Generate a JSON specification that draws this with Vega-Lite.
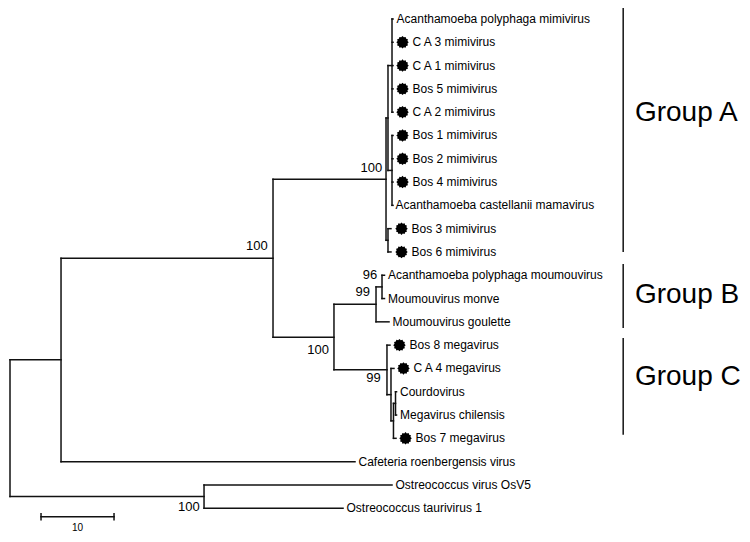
{
  "$schema": "https://vega.github.io/schema/vega-lite/v6.json",
  "width": 750,
  "height": 542,
  "padding": 0,
  "autosize": {"type": "none"},
  "background": "white",
  "config": {"view": {"stroke": null}, "text": {"font": "Liberation Sans"}},
  "datasets": {
    "segments": [
      {"x": 0, "x2": 6.99, "y": 14.63, "y2": 14.63},
      {"x": 0, "x2": 26.58, "y": 20.5, "y2": 20.5},
      {"x": 6.99, "x2": 36.03, "y": 10.27, "y2": 10.27},
      {"x": 6.99, "x2": 47.26, "y": 19, "y2": 19},
      {"x": 36.03, "x2": 51.51, "y": 6.875, "y2": 6.875},
      {"x": 36.03, "x2": 44.38, "y": 13.66, "y2": 13.66},
      {"x": 51.51, "x2": 51.78, "y": 4.25, "y2": 4.25},
      {"x": 51.51, "x2": 51.78, "y": 9.5, "y2": 9.5},
      {"x": 51.78, "x2": 52.33, "y": 2, "y2": 2},
      {"x": 51.78, "x2": 52.33, "y": 6.5, "y2": 6.5},
      {"x": 52.33, "x2": 52.47, "y": 0, "y2": 0},
      {"x": 52.33, "x2": 52.47, "y": 1, "y2": 1},
      {"x": 52.33, "x2": 52.47, "y": 2, "y2": 2},
      {"x": 52.33, "x2": 52.47, "y": 3, "y2": 3},
      {"x": 52.33, "x2": 52.47, "y": 4, "y2": 4},
      {"x": 52.33, "x2": 52.47, "y": 5, "y2": 5},
      {"x": 52.33, "x2": 52.47, "y": 6, "y2": 6},
      {"x": 52.33, "x2": 52.47, "y": 7, "y2": 7},
      {"x": 52.33, "x2": 52.47, "y": 8, "y2": 8},
      {"x": 51.78, "x2": 52.19, "y": 9, "y2": 9},
      {"x": 51.78, "x2": 52.19, "y": 10, "y2": 10},
      {"x": 44.38, "x2": 50.14, "y": 12.25, "y2": 12.25},
      {"x": 44.38, "x2": 51.64, "y": 15.06, "y2": 15.06},
      {"x": 50.14, "x2": 50.96, "y": 11.5, "y2": 11.5},
      {"x": 50.14, "x2": 51.92, "y": 13, "y2": 13},
      {"x": 50.96, "x2": 51.3, "y": 11, "y2": 11},
      {"x": 50.96, "x2": 51.3, "y": 12, "y2": 12},
      {"x": 51.64, "x2": 52.05, "y": 14, "y2": 14},
      {"x": 51.64, "x2": 52.19, "y": 16.125, "y2": 16.125},
      {"x": 52.19, "x2": 52.6, "y": 15, "y2": 15},
      {"x": 52.19, "x2": 52.53, "y": 17.25, "y2": 17.25},
      {"x": 52.53, "x2": 52.81, "y": 16.5, "y2": 16.5},
      {"x": 52.53, "x2": 52.88, "y": 18, "y2": 18},
      {"x": 52.81, "x2": 52.95, "y": 16, "y2": 16},
      {"x": 52.81, "x2": 52.95, "y": 17, "y2": 17},
      {"x": 26.58, "x2": 52.33, "y": 20, "y2": 20},
      {"x": 26.58, "x2": 45.62, "y": 21, "y2": 21},
      {"x": 0, "x2": 0, "y": 14.63, "y2": 20.5},
      {"x": 6.99, "x2": 6.99, "y": 10.27, "y2": 19},
      {"x": 36.03, "x2": 36.03, "y": 6.875, "y2": 13.66},
      {"x": 51.51, "x2": 51.51, "y": 4.25, "y2": 9.5},
      {"x": 51.78, "x2": 51.78, "y": 2, "y2": 6.5},
      {"x": 52.33, "x2": 52.33, "y": 0, "y2": 4},
      {"x": 52.33, "x2": 52.33, "y": 5, "y2": 8},
      {"x": 51.78, "x2": 51.78, "y": 9, "y2": 10},
      {"x": 44.38, "x2": 44.38, "y": 12.25, "y2": 15.06},
      {"x": 50.14, "x2": 50.14, "y": 11.5, "y2": 13},
      {"x": 50.96, "x2": 50.96, "y": 11, "y2": 12},
      {"x": 51.64, "x2": 51.64, "y": 14, "y2": 16.125},
      {"x": 52.19, "x2": 52.19, "y": 15, "y2": 17.25},
      {"x": 52.53, "x2": 52.53, "y": 16.5, "y2": 18},
      {"x": 52.81, "x2": 52.81, "y": 16, "y2": 17},
      {"x": 26.58, "x2": 26.58, "y": 20, "y2": 21},
      {"x": 4.25, "x2": 14.25, "y": 21.37, "y2": 21.37},
      {"x": 4.25, "x2": 4.25, "y": 21.24, "y2": 21.5},
      {"x": 14.25, "x2": 14.25, "y": 21.24, "y2": 21.5}
    ],
    "leaves": [
      {"name": "Acanthamoeba polyphaga mimivirus", "x": 52.47, "y": 0, "dot": false},
      {"name": "C A 3 mimivirus", "x": 52.47, "y": 1, "dot": true},
      {"name": "C A 1 mimivirus", "x": 52.47, "y": 2, "dot": true},
      {"name": "Bos 5 mimivirus", "x": 52.47, "y": 3, "dot": true},
      {"name": "C A 2 mimivirus", "x": 52.47, "y": 4, "dot": true},
      {"name": "Bos 1 mimivirus", "x": 52.47, "y": 5, "dot": true},
      {"name": "Bos 2 mimivirus", "x": 52.47, "y": 6, "dot": true},
      {"name": "Bos 4 mimivirus", "x": 52.47, "y": 7, "dot": true},
      {"name": "Acanthamoeba castellanii mamavirus", "x": 52.33, "y": 8, "dot": false},
      {"name": "Bos 3 mimivirus", "x": 52.33, "y": 9, "dot": true},
      {"name": "Bos 6 mimivirus", "x": 52.33, "y": 10, "dot": true},
      {"name": "Acanthamoeba polyphaga moumouvirus", "x": 51.3, "y": 11, "dot": false},
      {"name": "Moumouvirus monve", "x": 51.3, "y": 12, "dot": false},
      {"name": "Moumouvirus goulette", "x": 51.92, "y": 13, "dot": false},
      {"name": "Bos 8 megavirus", "x": 52.05, "y": 14, "dot": true},
      {"name": "C A 4 megavirus", "x": 52.6, "y": 15, "dot": true},
      {"name": "Courdovirus", "x": 52.95, "y": 16, "dot": false},
      {"name": "Megavirus chilensis", "x": 52.95, "y": 17, "dot": false},
      {"name": "Bos 7 megavirus", "x": 52.88, "y": 18, "dot": true},
      {"name": "Cafeteria roenbergensis virus", "x": 47.26, "y": 19, "dot": false},
      {"name": "Ostreococcus virus OsV5", "x": 52.33, "y": 20, "dot": false},
      {"name": "Ostreococcus taurivirus 1", "x": 45.62, "y": 21, "dot": false}
    ],
    "boot": [
      {"label": "100", "x": 35.3, "y": 9.74},
      {"label": "100", "x": 51.0, "y": 6.39},
      {"label": "96", "x": 50.3, "y": 10.99},
      {"label": "99", "x": 49.3, "y": 11.72},
      {"label": "100", "x": 43.7, "y": 14.2},
      {"label": "99", "x": 50.8, "y": 15.4},
      {"label": "100", "x": 26.0, "y": 20.94}
    ],
    "groups": [
      {"name": "Group A", "x": 84.0, "tx": 85.6, "y": -0.47, "y2": 10.0, "ty": 4.03},
      {"name": "Group B", "x": 84.0, "tx": 85.6, "y": 10.52, "y2": 13.26, "ty": 11.85},
      {"name": "Group C", "x": 84.0, "tx": 85.6, "y": 13.69, "y2": 17.85, "ty": 15.36}
    ],
    "scale": [
      {"label": "10", "x": 9.25, "y": 21.85}
    ]
  },
  "encoding": {
    "x": {"field": "x", "type": "quantitative", "scale": {"domain": [-1.37, 101.37], "nice": false, "zero": false}, "axis": null},
    "y": {"field": "y", "type": "quantitative", "scale": {"domain": [-0.815, 22.45], "nice": false, "zero": false, "reverse": true}, "axis": null}
  },
  "layer": [
    {
      "data": {"name": "segments"},
      "mark": {"type": "rule", "stroke": "#111111", "strokeWidth": 1.5, "strokeCap": "square"},
      "encoding": {"x2": {"field": "x2"}, "y2": {"field": "y2"}}
    },
    {
      "data": {"name": "groups"},
      "mark": {"type": "rule", "stroke": "#222222", "strokeWidth": 1.6},
      "encoding": {"y2": {"field": "y2"}}
    },
    {
      "data": {"name": "groups"},
      "mark": {"type": "text", "align": "left", "baseline": "middle", "fontSize": 28, "fill": "#000000"},
      "encoding": {"x": {"field": "tx", "type": "quantitative"}, "y": {"field": "ty", "type": "quantitative"}, "text": {"field": "name"}}
    },
    {
      "data": {"name": "leaves"},
      "transform": [{"filter": "datum.dot"}],
      "mark": {"type": "point", "filled": true, "fill": "#000000", "opacity": 1, "size": 155, "xOffset": 9.5, "shape": "M1,0L0.792,0.212L0.866,0.5L0.58,0.58L0.5,0.866L0.212,0.792L0,1L-0.212,0.792L-0.5,0.866L-0.58,0.58L-0.866,0.5L-0.792,0.212L-1,0L-0.792,-0.212L-0.866,-0.5L-0.58,-0.58L-0.5,-0.866L-0.212,-0.792L0,-1L0.212,-0.792L0.5,-0.866L0.58,-0.58L0.866,-0.5L0.792,-0.212Z"}
    },
    {
      "data": {"name": "leaves"},
      "transform": [{"filter": "!datum.dot"}],
      "mark": {"type": "text", "align": "left", "baseline": "middle", "fontSize": 12, "dx": 3.5, "fill": "#000000"},
      "encoding": {"text": {"field": "name"}}
    },
    {
      "data": {"name": "leaves"},
      "transform": [{"filter": "datum.dot"}],
      "mark": {"type": "text", "align": "left", "baseline": "middle", "fontSize": 12, "dx": 19.5, "fill": "#000000"},
      "encoding": {"text": {"field": "name"}}
    },
    {
      "data": {"name": "boot"},
      "mark": {"type": "text", "align": "right", "baseline": "middle", "fontSize": 13, "fill": "#000000"},
      "encoding": {"text": {"field": "label"}}
    },
    {
      "data": {"name": "scale"},
      "mark": {"type": "text", "align": "center", "baseline": "middle", "fontSize": 10, "fill": "#000000"},
      "encoding": {"text": {"field": "label"}}
    }
  ]
}
